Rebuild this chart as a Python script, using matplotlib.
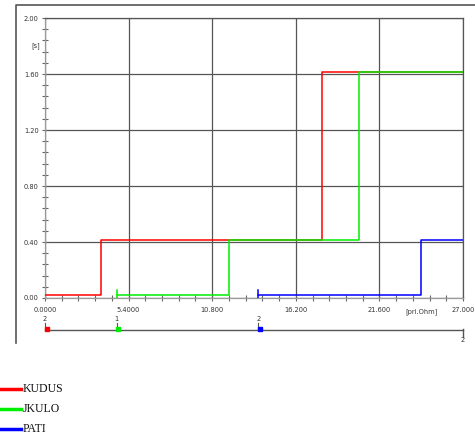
import matplotlib
matplotlib.use("Agg")
import matplotlib.pyplot as plt
from matplotlib.lines import Line2D

# step curves: breakpoints along x and level on each segment
names = ["KUDUS", "JKULO", "PATI"]
colors = ["#ff0000", "#00ee00", "#0000ff"]
x_kudus = [0.0, 3.62, 17.87, 27.0]
y_kudus = [0.02, 0.415, 1.615]
x_jkulo = [4.63, 11.90, 20.28, 27.0]
y_jkulo = [0.02, 0.415, 1.615]
x_pati = [13.78, 24.29, 27.0]
y_pati = [0.02, 0.415]
marker_labels = ["2", "1", "2"]
end_label = "2"

x_ticks = [0.0, 5.4, 10.8, 16.2, 21.6, 27.0]
x_ticklabels = ["0.0000", "5.4000", "10.800", "16.200", "21.600", "27.000"]
y_ticks = [0.0, 0.4, 0.8, 1.2, 1.6, 2.0]
y_ticklabels = ["0.00", "0.40", "0.80", "1.20", "1.60", "2.00"]

W, H = 475, 440
fig = plt.figure(figsize=(W / 100, H / 100), dpi=100)
fig.patch.set_facecolor("white")

def px(x0, y0, x1, y1):
    # pixel box (top-left origin) -> figure fraction rect
    return [x0 / W, 1 - y1 / H, (x1 - x0) / W, (y1 - y0) / H]

# outer frame lines (left and top)
fig.add_artist(Line2D([16 / W, 16 / W, 1.0], [1 - 343 / H, 1 - 5 / H, 1 - 5 / H],
                      transform=fig.transFigure, color="#555555", lw=1.2))

ax = fig.add_axes(px(45, 18, 463, 298))
ax.set_xlim(0, 27)
ax.set_ylim(0, 2)
grid_c = "#555555"
for s in ax.spines.values():
    s.set_color(grid_c)
    s.set_linewidth(0.9)
ax.spines["left"].set_color("#999999")
ax.spines["bottom"].set_color("#999999")

ax.set_xticks(x_ticks)
ax.set_xticklabels(x_ticklabels)
ax.set_yticks(y_ticks)
ax.set_yticklabels(y_ticklabels)
ax.set_xticks([i * 1.08 for i in range(26)], minor=True)
ax.set_yticks([i * 0.08 for i in range(26)], minor=True)
ax.tick_params(which="both", direction="inout", color="#666666", labelsize=4.8,
               labelcolor="#333333", pad=2)
ax.tick_params(axis="x", which="major", pad=4)
ax.tick_params(which="major", length=5, width=0.8)
ax.tick_params(which="minor", length=4, width=0.8)
ax.grid(True, which="major", color=grid_c, lw=0.9)
ax.set_axisbelow(True)

series = [(x_kudus, y_kudus), (x_jkulo, y_jkulo), (x_pati, y_pati)]
for (xs, ys), c in zip(series, colors):
    ax.step(xs, ys + [ys[-1]], where="post", color=c, lw=1.1, zorder=3)
    if xs[0] > 0:
        ax.plot([xs[0], xs[0]], [0.0, 0.055], color=c, lw=1.1, zorder=3)

ax.text(-0.012, 0.9, "[s]", transform=ax.transAxes, ha="right", va="center",
        fontsize=4.8, color="#333333")
ax.text(24.3, -0.035, "[pri.Ohm]", transform=ax.get_xaxis_transform(), ha="center",
        va="top", fontsize=4.8, color="#333333")

# lower position axis, y in pixel units
ax2 = fig.add_axes(px(45, 312, 463, 345))
ax2.set_xlim(0, 27)
ax2.set_ylim(345, 312)
ax2.axis("off")
ax2.plot([0, 27], [330, 330], color="#555555", lw=1.0, clip_on=False)
ax2.plot([27, 27], [329, 337], color="#555555", lw=1.0, clip_on=False)
ax2.text(27, 337, end_label, ha="center", va="top", fontsize=4.8, color="#333333")
for (xs, ys), c, lab in zip(series, colors, marker_labels):
    ax2.plot([xs[0], xs[0]], [323, 330], color="#555555", lw=0.8, clip_on=False)
    ax2.plot([xs[0] + 0.1], [328.8], marker="s", ms=2.5, color=c, mec=c, clip_on=False)
    ax2.text(xs[0], 322, lab, ha="center", va="bottom", fontsize=4.8, color="#333333")

# legend
for i, (n, c) in enumerate(zip(names, colors)):
    yp = 1 - (389 + 20 * i) / H
    fig.add_artist(Line2D([0, 21 / W], [yp, yp], transform=fig.transFigure, color=c, lw=2.5))
    fig.text(23 / W, yp, n, ha="left", va="center", fontsize=8.5,
             family="Liberation Serif", color="#111111")

fig.savefig("out.png", dpi=100)
